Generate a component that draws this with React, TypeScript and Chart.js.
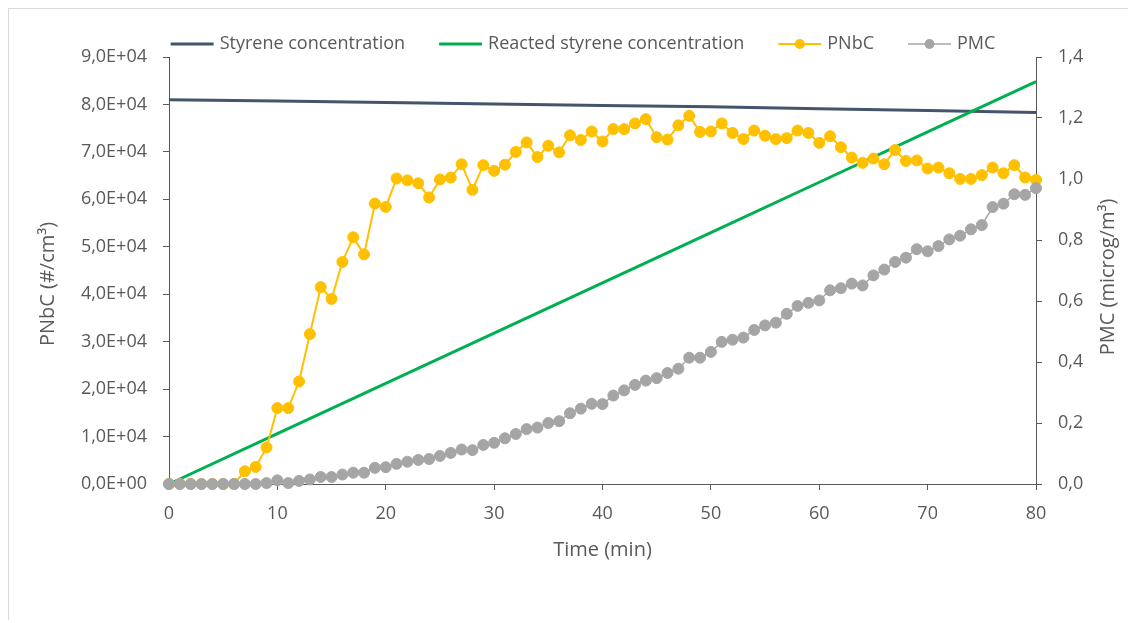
import React, { useEffect, useRef } from 'react';
import { Chart, registerables } from 'chart.js';

Chart.register(...registerables);

// ---------- data ----------
const TIME = [
  0, 1, 2, 3, 4, 5, 6, 7, 8, 9, 10, 11, 12, 13, 14, 15, 16, 17, 18, 19, 20,
  21, 22, 23, 24, 25, 26, 27, 28, 29, 30, 31, 32, 33, 34, 35, 36, 37, 38, 39, 40,
  41, 42, 43, 44, 45, 46, 47, 48, 49, 50, 51, 52, 53, 54, 55, 56, 57, 58, 59, 60,
  61, 62, 63, 64, 65, 66, 67, 68, 69, 70, 71, 72, 73, 74, 75, 76, 77, 78, 79, 80,
];

const PNBC = [
  0, 0, 0, 0, 0, 0, 0, 2700, 3600, 7700, 16000,
  16000, 21600, 31600, 41500, 39000, 46800, 52000, 48400, 59100, 58400,
  64400, 64000, 63400, 60400, 64200, 64600, 67400, 62000, 67200, 66000,
  67300, 70000, 72000, 68900, 71300, 69900, 73500, 72500, 74300, 72200,
  74800, 74800, 76000, 76900, 73100, 72600, 75600, 77600, 74200, 74300,
  76000, 74000, 72700, 74500, 73400, 72700, 72900, 74500, 74000, 71900,
  73300, 71000, 68800, 67700, 68600, 67400, 70400, 68100, 68200, 66500,
  66700, 65500, 64300, 64300, 65100, 66700, 65500, 67200, 64600, 64100,
];

const PMC = [
  0, 0, 0, 0, 0, 0, 0, 0, 0, 0.003, 0.012,
  0.003, 0.01, 0.015, 0.023, 0.023, 0.031, 0.037, 0.037, 0.053, 0.055,
  0.066, 0.073, 0.079, 0.082, 0.092, 0.102, 0.113, 0.111, 0.128, 0.135,
  0.15, 0.164, 0.18, 0.185, 0.2, 0.206, 0.232, 0.247, 0.263, 0.262,
  0.29, 0.307, 0.325, 0.339, 0.347, 0.364, 0.378, 0.414, 0.414, 0.433,
  0.466, 0.473, 0.48, 0.505, 0.52, 0.529, 0.558, 0.584, 0.594, 0.602,
  0.635, 0.642, 0.657, 0.651, 0.684, 0.703, 0.728, 0.742, 0.77, 0.763,
  0.78, 0.802, 0.814, 0.835, 0.849, 0.908, 0.919, 0.95, 0.948, 0.97,
];

const STYRENE_TIME = [0, 10, 20, 30, 40, 50, 60, 70, 80];
const STYRENE = [81000, 80700, 80400, 80100, 79800, 79500, 79100, 78700, 78300];

const REACTED_TIME = [0, 10, 20, 30, 40, 50, 60, 70, 80];
const REACTED = [0, 10600, 21200, 31800, 42400, 53000, 63600, 74200, 84800];

const SERIES_LABELS = ['Styrene concentration', 'Reacted styrene concentration', 'PNbC', 'PMC'];
const X_TICK_LABELS = ['0', '10', '20', '30', '40', '50', '60', '70', '80'];
const LEFT_TICK_LABELS = [
  '0,0E+00', '1,0E+04', '2,0E+04', '3,0E+04', '4,0E+04',
  '5,0E+04', '6,0E+04', '7,0E+04', '8,0E+04', '9,0E+04',
];
const RIGHT_TICK_LABELS = ['0,0', '0,2', '0,4', '0,6', '0,8', '1,0', '1,2', '1,4'];
const X_TITLE = 'Time (min)';
const Y_TITLE = 'PNbC (#/cm\u00B3)';
const Y1_TITLE = 'PMC (microg/m\u00B3)';

// ---------- style ----------
const FONT = "'Open Sans', sans-serif";
const TEXT_COLOR = '#595959';
const AXIS_COLOR = '#595959';
const CANVAS_W = 1118;
const CANVAS_H = 611;

const pts = (xs: number[], ys: number[]) => xs.map((x, i) => ({ x, y: ys[i] }));

const overlayPlugin = {
  id: 'overlay',
  afterDraw(chart: any) {
    const ctx = chart.ctx as CanvasRenderingContext2D;
    const { left, right } = chart.chartArea;
    ctx.save();
    ctx.fillStyle = TEXT_COLOR;
    ctx.textBaseline = 'middle';
    ctx.textAlign = 'center';
    ctx.font = `20px ${FONT}`;
    // axis titles
    ctx.fillText(X_TITLE, (left + right) / 2, 541);
    ctx.save();
    ctx.translate(39, 275);
    ctx.rotate(-Math.PI / 2);
    ctx.fillText(Y_TITLE, 0, 0);
    ctx.restore();
    ctx.save();
    ctx.translate(1099, 268);
    ctx.rotate(-Math.PI / 2);
    ctx.fillText(Y1_TITLE, 0, 0);
    ctx.restore();

    // legend
    ctx.font = `18px ${FONT}`;
    ctx.textAlign = 'left';
    const ICON = 43;
    const GAP = 6;
    const ITEM_GAP = 34;
    const datasets = chart.data.datasets;
    const widths = datasets.map((ds: any) => ICON + GAP + ctx.measureText(ds.label).width);
    const total = widths.reduce((a: number, b: number) => a + b, 0) + ITEM_GAP * (datasets.length - 1);
    let x = 574 - total / 2;
    const y = 35;
    datasets.forEach((ds: any, i: number) => {
      ctx.strokeStyle = ds.borderColor;
      ctx.lineWidth = ds.borderWidth;
      ctx.beginPath();
      ctx.moveTo(x, y);
      ctx.lineTo(x + ICON, y);
      ctx.stroke();
      if (ds.pointRadius > 0) {
        ctx.fillStyle = ds.pointBackgroundColor;
        ctx.beginPath();
        ctx.arc(x + ICON / 2, y, 5, 0, Math.PI * 2);
        ctx.fill();
      }
      ctx.fillStyle = TEXT_COLOR;
      ctx.fillText(ds.label, x + ICON + GAP, y);
      x += widths[i] + ITEM_GAP;
    });
    ctx.restore();
  },
};

export default function App() {
  const canvasRef = useRef<HTMLCanvasElement | null>(null);

  useEffect(() => {
    if (!canvasRef.current) return;
    const tickFont = { family: FONT, size: 18 };
    const chart = new Chart(canvasRef.current, {
      type: 'line',
      data: {
        datasets: [
          {
            label: SERIES_LABELS[0],
            data: pts(STYRENE_TIME, STYRENE),
            borderColor: '#44546A',
            backgroundColor: '#44546A',
            borderWidth: 3,
            pointRadius: 0,
            yAxisID: 'y',
            order: 4,
            clip: false,
          },
          {
            label: SERIES_LABELS[1],
            data: pts(REACTED_TIME, REACTED),
            borderColor: '#00B050',
            backgroundColor: '#00B050',
            borderWidth: 3,
            pointRadius: 0,
            yAxisID: 'y',
            order: 3,
            clip: false,
          },
          {
            label: SERIES_LABELS[2],
            data: pts(TIME, PNBC),
            borderColor: '#FFC000',
            backgroundColor: '#FFC000',
            pointBackgroundColor: '#FFC000',
            pointBorderColor: '#FFC000',
            borderWidth: 2,
            pointRadius: 5.5,
            pointBorderWidth: 1,
            yAxisID: 'y',
            order: 2,
            clip: false,
          },
          {
            label: SERIES_LABELS[3],
            data: pts(TIME, PMC),
            borderColor: '#A5A5A5',
            backgroundColor: '#A5A5A5',
            pointBackgroundColor: '#A5A5A5',
            pointBorderColor: '#A5A5A5',
            borderWidth: 1.5,
            pointRadius: 5.5,
            pointBorderWidth: 1,
            yAxisID: 'y1',
            order: 1,
            clip: false,
          },
        ],
      },
      options: {
        animation: false,
        responsive: false,
        events: [],
        layout: { padding: { top: 48, left: 0, right: 0, bottom: 0 } },
        plugins: { legend: { display: false }, tooltip: { enabled: false } },
        scales: {
          x: {
            type: 'linear',
            min: 0,
            max: 80,
            ticks: {
              stepSize: 10,
              padding: 13,
              color: TEXT_COLOR,
              font: tickFont,
              callback: (_v: any, i: number) => X_TICK_LABELS[i],
            },
            grid: { drawOnChartArea: false, tickLength: 6, color: AXIS_COLOR },
            border: { color: AXIS_COLOR, width: 1 },
            afterFit: (s: any) => { s.height = 136; },
          },
          y: {
            type: 'linear',
            position: 'left',
            min: 0,
            max: 90000,
            ticks: {
              stepSize: 10000,
              padding: 16,
              color: TEXT_COLOR,
              font: tickFont,
              callback: (_v: any, i: number) => LEFT_TICK_LABELS[i],
            },
            grid: { drawOnChartArea: false, tickLength: 6, color: AXIS_COLOR },
            border: { color: AXIS_COLOR, width: 1 },
            afterFit: (s: any) => { s.width = 160; },
          },
          y1: {
            type: 'linear',
            position: 'right',
            min: 0,
            max: 1.4,
            ticks: {
              stepSize: 0.2,
              padding: 16,
              color: TEXT_COLOR,
              font: tickFont,
              callback: (_v: any, i: number) => RIGHT_TICK_LABELS[i],
            },
            grid: { drawOnChartArea: false, tickLength: 6, color: AXIS_COLOR },
            border: { color: AXIS_COLOR, width: 1 },
            afterFit: (s: any) => { s.width = 91; },
          },
        },
      } as any,
      plugins: [overlayPlugin],
    });
    return () => chart.destroy();
  }, []);

  return (
    <div
      style={{
        width: CANVAS_W + 3,
        height: CANVAS_H + 1,
        borderLeft: '1px solid #d9d9d9',
        borderTop: '1px solid #d9d9d9',
        borderRight: '1px solid #d9d9d9',
        boxSizing: 'border-box',
      }}
    >
      <canvas
        ref={canvasRef}
        width={CANVAS_W}
        height={CANVAS_H}
        style={{ display: 'block', width: CANVAS_W, height: CANVAS_H }}
      />
    </div>
  );
}
